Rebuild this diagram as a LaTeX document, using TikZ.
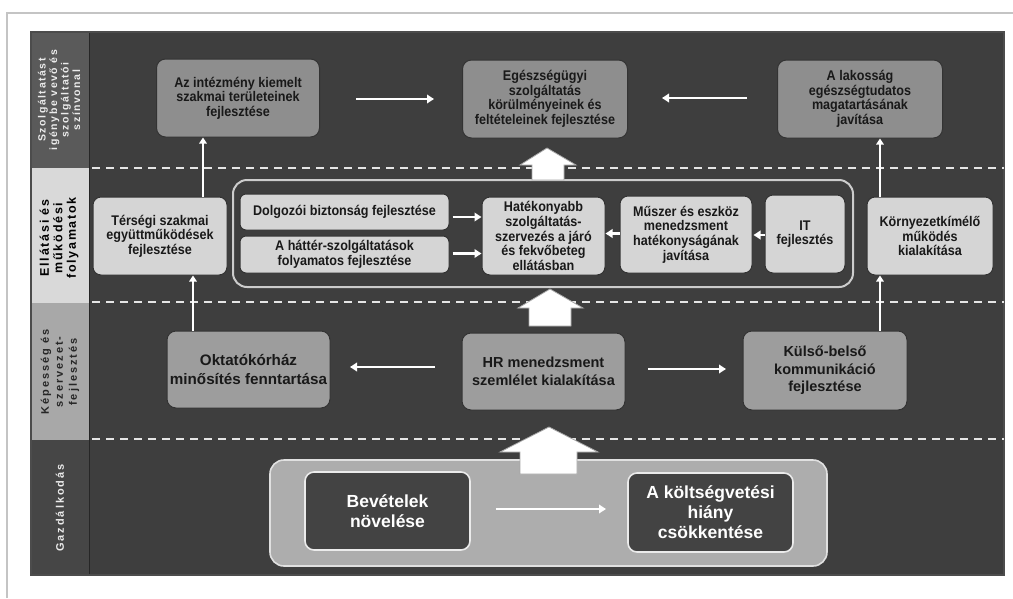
\documentclass[tikz,border=0pt]{standalone}
\usepackage{fontspec}
\setmainfont{Liberation Sans}
\newfontfamily\condf[FakeStretch=0.9]{Liberation Sans}
\newfontfamily\spacedf[LetterSpace=18]{Liberation Sans}
\newfontfamily\spacedt[LetterSpace=15]{Liberation Sans}
\newfontfamily\spacedb[LetterSpace=14]{Liberation Sans}
\usetikzlibrary{arrows.meta}
\definecolor{bgdark}{HTML}{3E3E3E}
\definecolor{bandA}{HTML}{5A5A5A}
\definecolor{bandB}{HTML}{D9D9D9}
\definecolor{bandC}{HTML}{A8A8A8}
\definecolor{bandD}{HTML}{464646}
\definecolor{rowone}{HTML}{8E8E8E}
\definecolor{rowtwo}{HTML}{D5D5D5}
\definecolor{rowthree}{HTML}{9D9D9D}
\definecolor{gazdfill}{HTML}{ADADAD}
\definecolor{innerdark}{HTML}{434343}
\definecolor{framegray}{HTML}{C4C4C4}
\tikzset{
  onebox/.style={draw=black!80, line width=1pt, fill=rowone, rounded corners=9pt, align=center,
    font=\condf\bfseries\fontsize{14}{14.5}\selectfont, text=black!90, inner sep=1pt},
  twobox/.style={draw=black!80, line width=1pt, fill=rowtwo, rounded corners=8pt, align=center,
    font=\condf\bfseries\fontsize{14}{14.6}\selectfont, text=black!90, inner sep=1pt},
  threebox/.style={draw=black!80, line width=1pt, fill=rowthree, rounded corners=9pt, align=center,
    text=black!90, inner sep=1pt},
  darkbox/.style={draw=white!92!black, line width=1.6pt, fill=innerdark, rounded corners=9pt, align=center,
    font=\bfseries\fontsize{17.5}{20}\selectfont, text=white, inner sep=1pt},
  warrow/.style={draw=white, line width=2.6pt, -{Triangle[length=7pt,width=8.5pt]}},
  vline/.style={draw=white, line width=2.2pt, -{Triangle[length=6pt,width=7.5pt]}},
  dashline/.style={draw=white!90!black, line width=2pt, dash pattern=on 8pt off 6pt},
  bandlabel/.style={rotate=90, align=center, inner sep=0pt},
  blockarrow/.style={fill=white, draw=gray!70, line width=0.8pt}
}
\begin{document}
\begin{tikzpicture}[x=1pt,y=-1pt]
\useasboundingbox (0,0) rectangle (1013,598);
\fill[white] (0,0) rectangle (1013,598);
% outer frame lines
\draw[framegray, line width=2pt] (7,598) -- (7,13) -- (1013,13);
% main panel
\fill[bgdark] (31,32) rectangle (1004,575);
% left bands
\fill[bandA] (31,32) rectangle (89,168);
\fill[bandB] (31,168) rectangle (89,303);
\fill[bandC] (31,303) rectangle (89,440);
\fill[bandD] (31,440) rectangle (89,575);
\draw[black!85, line width=1pt] (89,32) -- (89,575);
\draw[black!70, line width=1.2pt] (31,32) rectangle (1004,575);
% band labels
\node[bandlabel, text=white!92!black, font=\spacedt\bfseries\fontsize{10.5}{11.5}\selectfont] (lbA) at (59,100)
  {Szolgáltatást\\igénybe vevő és\\szolgáltatói\\színvonal};
\node[bandlabel, text=black, font=\spacedb\bfseries\fontsize{12.5}{13.5}\selectfont] (lbB) at (59,238)
  {Ellátási és\\működési\\folyamatok};
\node[bandlabel, text=black!85, font=\spacedf\bfseries\fontsize{11}{14}\selectfont] (lbC) at (60,372)
  {Képesség és\\szervezet-\\fejlesztés};
\node[bandlabel, text=white!92!black, font=\spacedf\bfseries\fontsize{11}{12}\selectfont] (lbD) at (60,508)
  {Gazdálkodás};
% dashed separators
\draw[dashline] (92,168) -- (1004,168);
\draw[dashline] (92,302) -- (1004,302);
\draw[dashline] (92,439) -- (1004,439);
% row 1
\node[onebox, minimum width=163pt, minimum height=78pt] (az) at (238,98)
  {Az intézmény kiemelt\\szakmai területeinek\\fejlesztése};
\node[onebox, minimum width=165pt, minimum height=78pt] (egesz) at (545,99)
  {Egészségügyi\\szolgáltatás\\körülményeinek és\\feltételeinek fejlesztése};
\node[onebox, minimum width=165pt, minimum height=78pt] (lak) at (860,99)
  {A lakosság\\egészségtudatos\\magatartásának\\javítása};
\coordinate (a1s) at (356,99); \coordinate (a1e) at (434,99);
\draw[warrow] (a1s) -- (a1e);
\coordinate (a2s) at (747,98); \coordinate (a2e) at (662,98);
\draw[warrow] (a2s) -- (a2e);
% row 2 container
\draw[draw=white!80!black, line width=2pt, rounded corners=14pt] (233,180) rectangle (853,287);
\node[twobox, minimum width=134pt, minimum height=78pt] (ters) at (160,236)
  {Térségi szakmai\\együttműködések\\fejlesztése};
\node[twobox, minimum width=209pt, minimum height=36pt, rounded corners=6pt] (dolg) at (344.5,212)
  {Dolgozói biztonság fejlesztése};
\node[twobox, minimum width=209pt, minimum height=37pt, rounded corners=6pt] (hatter) at (344.5,254.5)
  {A háttér-szolgáltatások\\folyamatos fejlesztése};
\node[twobox, minimum width=123pt, minimum height=78pt] (hatek) at (543.5,236)
  {Hatékonyabb\\szolgáltatás-\\szervezés a járó\\és fekvőbeteg\\ellátásban};
\node[twobox, minimum width=132pt, minimum height=77pt] (muszer) at (686,234.5)
  {Műszer és eszköz\\menedzsment\\hatékonyságának\\javítása};
\node[twobox, minimum width=80pt, minimum height=78pt] (it) at (805,234)
  {IT\\fejlesztés};
\node[twobox, minimum width=126pt, minimum height=78pt] (korny) at (930,236)
  {Környezetkímélő\\működés\\kialakítása};
\draw[warrow, line width=2.2pt] (dolg.east) ++(3,5) coordinate (d1) -- (d1 -| hatek.west);
\draw[warrow, line width=2.2pt] (hatter.east) ++(3,-1) coordinate (h1) -- (h1 -| hatek.west);
\draw[warrow, line width=2.2pt] (muszer.west) ++(0,-1) coordinate (m1) -- ++(-14,0);
\draw[warrow, line width=2.2pt] (it.west) ++(0,1) coordinate (i1) -- ++(-11,0);
\draw[vline] (ters.north -| 203,0) -- (az.south -| 203,0);
\draw[vline] (korny.north -| 880,0) -- (lak.south -| 880,0);
% row 3
\node[threebox, minimum width=163pt, minimum height=77pt, font=\bfseries\fontsize{15.2}{19}\selectfont] (okt) at (248.5,369.5)
  {Oktatókórház\\minősítés fenntartása};
\node[threebox, minimum width=163pt, minimum height=77pt, font=\bfseries\fontsize{14.5}{18}\selectfont] (hr) at (543.5,371.5)
  {HR menedzsment\\szemlélet kialakítása};
\node[threebox, minimum width=164pt, minimum height=79pt, font=\bfseries\fontsize{14.5}{17.5}\selectfont] (kulso) at (825,370.5)
  {Külső-belső\\kommunikáció\\fejlesztése};
\coordinate (hrl) at (435,367); \coordinate (oktr) at (350,367);
\draw[warrow] (hrl) -- (oktr);
\coordinate (hrr) at (648,369); \coordinate (kul) at (726,369);
\draw[warrow] (hrr) -- (kul);
\draw[vline] (okt.north -| 193,0) -- (ters.south -| 193,0);
\draw[vline] (kulso.north -| 880,0) -- (korny.south -| 880,0);
% row 4
\draw[draw=white!88!black, fill=gazdfill, line width=1.6pt, rounded corners=14pt] (270,460) rectangle (827,566);
\node[darkbox, minimum width=165pt, minimum height=78pt] (bev) at (387.5,511)
  {Bevételek\\növelése};
\node[darkbox, minimum width=165pt, minimum height=79pt] (kolt) at (710.5,512.5)
  {A költségvetési\\hiány\\csökkentése};
\draw[warrow, line width=2.2pt] (bev.east) ++(25,-2) coordinate (b1) -- (b1 -| 606,0);
% block arrows
\draw[blockarrow] (532,180) -- (532,165) -- (520,165) -- (547,148) -- (576,165) -- (564,165) -- (564,180) -- cycle;
\draw[blockarrow] (529,326) -- (529,308) -- (518,308) -- (550,289) -- (583,308) -- (571,308) -- (571,326) -- cycle;
\draw[blockarrow] (520,474) -- (520,452) -- (500,452) -- (549,427) -- (598,452) -- (577,452) -- (577,474) -- cycle;
\end{tikzpicture}
\end{document}
